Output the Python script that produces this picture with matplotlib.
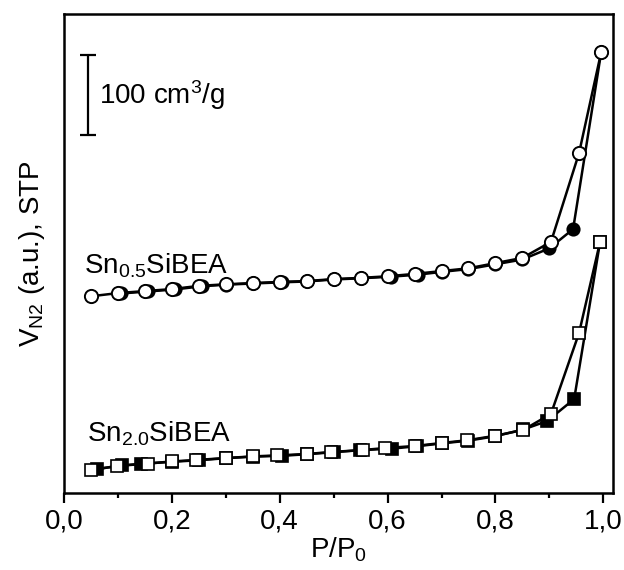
import matplotlib
matplotlib.use("Agg")
import matplotlib.pyplot as plt
from matplotlib.ticker import MultipleLocator, FuncFormatter

plt.rcParams['font.family'] = ['Liberation Sans', 'DejaVu Sans']
plt.rcParams['mathtext.fontset'] = 'custom'
plt.rcParams['mathtext.rm'] = 'Liberation Sans'
plt.rcParams['mathtext.it'] = 'Liberation Sans:italic'
plt.rcParams['mathtext.default'] = 'regular'

# Sn0.5SiBEA (circles), volumes in cm3/g (arbitrary offset)
c_ads_x = [0.05, 0.1, 0.15, 0.2, 0.25, 0.3, 0.35, 0.4, 0.45, 0.5, 0.55, 0.6, 0.65,
           0.7, 0.75, 0.8, 0.85, 0.903, 0.955, 0.996]
c_ads_y = [246, 250, 252.5, 255, 259, 261, 262.5, 264, 265, 267.5, 269, 271, 274,
           277.5, 281, 287.5, 294, 314, 425, 551]
c_des_x = [0.996, 0.944, 0.9, 0.85, 0.8, 0.75, 0.7, 0.656, 0.606, 0.55, 0.5, 0.45,
           0.405, 0.35, 0.3, 0.255, 0.205, 0.155, 0.106]
c_des_y = [551, 330, 306, 292, 286, 280, 276.5, 273, 270.5, 268.5, 267, 264.5,
           263.5, 262, 260.5, 258.5, 254.5, 252, 249.5]

# Sn2.0SiBEA (squares)
s_ads_x = [0.05, 0.098, 0.155, 0.2, 0.245, 0.3, 0.35, 0.395, 0.45, 0.495, 0.554,
           0.596, 0.65, 0.7, 0.748, 0.8, 0.852, 0.903, 0.955, 0.994]
s_ads_y = [28.75, 33.75, 36.75, 39.5, 41.25, 43.75, 45.75, 47, 48.75, 51.25, 53.75,
           56.25, 58.75, 62.5, 66, 71.6, 79, 99, 200, 314]
s_des_x = [0.994, 0.946, 0.896, 0.852, 0.8, 0.75, 0.7, 0.655, 0.608, 0.548, 0.5,
           0.45, 0.405, 0.35, 0.3, 0.25, 0.2, 0.143, 0.108, 0.062]
s_des_y = [314, 117.5, 90, 79.5, 71, 65.5, 62, 58.5, 55.5, 53.5, 51, 48.5, 46.5,
           45.5, 43.5, 41, 39, 36.5, 34.5, 30]

x_ticks = [0.0, 0.2, 0.4, 0.6, 0.8, 1.0]
scale_bar = 100

fig = plt.figure(figsize=(6.24, 5.7), dpi=100)
ax = fig.add_axes([64/624, 77/570, 549/624, 479/570])

lw = 1.8
ax.plot(c_des_x, c_des_y, '-o', color='black', lw=lw, ms=9, mfc='black', mec='black',
        mew=1.2, zorder=2)
ax.plot(c_ads_x, c_ads_y, '-o', color='black', lw=lw, ms=9.5, mfc='white', mec='black',
        mew=1.4, zorder=3)
ax.plot(s_des_x, s_des_y, '-s', color='black', lw=lw, ms=8, mfc='black', mec='black',
        mew=1.2, zorder=2)
ax.plot(s_ads_x, s_ads_y, '-s', color='black', lw=lw, ms=8.5, mfc='white', mec='black',
        mew=1.2, zorder=3)

ax.set_xlim(0, 1.018)
ax.set_ylim(0, 599)
ax.set_xticks(x_ticks)
ax.xaxis.set_minor_locator(MultipleLocator(0.1))
ax.xaxis.set_major_formatter(FuncFormatter(lambda v, p: f"{v:.1f}".replace('.', ',')))
ax.set_yticks([])
ax.tick_params(axis='x', which='major', direction='out', length=7, width=1.6,
               labelsize=20, pad=4)
ax.tick_params(axis='x', which='minor', direction='out', length=3.5, width=1.6)
for s in ax.spines.values():
    s.set_linewidth(1.8)

ax.set_xlabel('P/P$_0$', fontsize=20, labelpad=1)
ax.set_ylabel('V$_{N2}$ (a.u.), STP', fontsize=20, labelpad=12)

# scale bar
ybar_top = 599 - (55 - 14) / 0.8
ax.errorbar([0.045], [ybar_top - scale_bar / 2], yerr=[scale_bar / 2], color='black',
            lw=1.6, capsize=6, capthick=1.6, fmt='none')
ax.text(0.064, ybar_top - scale_bar / 2, '100 cm$^3$/g', fontsize=20, va='center',
        ha='left')

ax.text(0.038, 274, 'Sn$_{0.5}$SiBEA', fontsize=20, ha='left', va='baseline')
ax.text(0.042, 64, 'Sn$_{2.0}$SiBEA', fontsize=20, ha='left', va='baseline')

fig.savefig('out.png', dpi=100)
